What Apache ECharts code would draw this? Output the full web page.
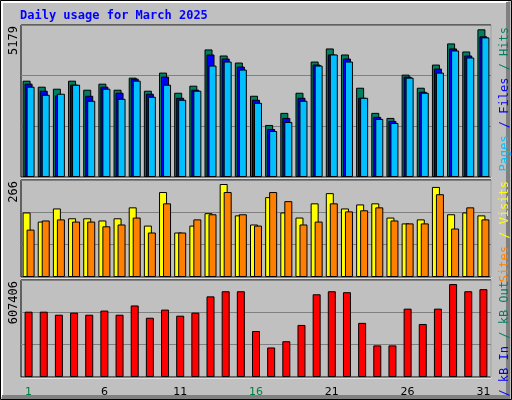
<!DOCTYPE html>
<html>
<head>
<meta charset="utf-8">
<script src="https://cdn.jsdelivr.net/npm/echarts@6/dist/echarts.min.js"></script>
<style>
  html, body { margin: 0; padding: 0; background: #c0c0c0; }
  #chart { width: 512px; height: 400px; }
</style>
</head>
<body>
<div id="chart"></div>
<script>
var days = ['1','2','3','4','5','6','7','8','9','10','11','12','13','14','15','16',
            '17','18','19','20','21','22','23','24','25','26','27','28','29','30','31'];
var weekend = ['1','2','8','9','15','16','22','23','29','30'];

var hits  = [3282,3077,3008,3282,2974,3180,2974,3385,2940,3557,2871,3111,4346,4140,3900,2768,
             1773,2185,2871,3934,4380,4174,3042,2185,2013,3488,3042,3831,4552,4277,5032];
var files = [3180,2940,2778,3145,2768,3077,2871,3351,2837,3420,2699,2974,4174,4037,3763,2631,
             1636,2013,2699,3831,4174,4037,2699,2048,1911,3420,2905,3694,4380,4140,4792];
var pages = [3077,2802,2837,3145,2597,3008,2665,3283,2734,3145,2631,2940,3797,3934,3660,2528,
             1567,1876,2597,3797,4174,3934,2699,1979,1842,3385,2871,3557,4311,4071,4757];
var visits = [177,152,188,161,161,155,161,191,141,233,122,141,175,255,169,144,
              219,177,163,202,230,188,199,202,163,147,158,247,172,177,169];
var sites  = [130,155,158,152,152,139,144,163,122,202,122,158,172,233,172,141,
              233,208,144,152,202,180,183,191,155,147,147,227,133,191,158];
var kbytes = [409000,409000,390000,403000,390000,416000,390000,448000,371000,422000,384000,403000,
              505000,537000,537000,288000,185000,224000,326000,518000,537000,531000,339000,198000,
              198000,428000,332000,428000,582000,537000,550000];

var maxHits = 5179, maxVisits = 266, maxKb = 607406;

var chart = echarts.init(document.getElementById('chart'));

function yAx(idx, max) {
    return {
        gridIndex: idx, type: 'value', min: 0, max: max, interval: max / 3,
        axisLabel: { show: false }, axisLine: { show: false }, axisTick: { show: false },
        splitLine: { lineStyle: { color: '#808080', width: 1 } }
    };
}
function xAx(idx, showLabels) {
    return {
        gridIndex: idx, type: 'category', data: days,
        axisLine: { show: false }, axisTick: { show: false },
        axisLabel: {
            show: showLabels, margin: 10, fontFamily: 'DejaVu Sans', fontSize: 11,
            formatter: function (v) { return weekend.indexOf(v) >= 0 ? '{we|' + v + '}' : v; },
            color: '#000',
            rich: { we: { color: '#008040', fontFamily: 'DejaVu Sans', fontSize: 11 } }
        }
    };
}
function bar(x, name, data, color, w, gap) {
    return {
        type: 'bar', name: name, xAxisIndex: x, yAxisIndex: x, data: data,
        barWidth: w, barGap: gap, animation: false,
        itemStyle: { color: color, borderColor: '#000', borderWidth: 1 }
    };
}
function vtext(x, y, rich, text) {
    return {
        type: 'text', x: x, y: y, rotation: Math.PI / 2,
        style: { text: text, rich: rich, fontFamily: 'DejaVu Sans Mono', fontSize: 12,
                 align: 'right', verticalAlign: 'middle', fill: '#000' }
    };
}

var gridStyle = { show: true, backgroundColor: 'transparent', borderColor: '#000', borderWidth: 1 };

var option = {
    backgroundColor: '#c0c0c0',
    grid: [
        Object.assign({ left: 21, right: 21, top: 25, height: 152 }, gridStyle),
        Object.assign({ left: 21, right: 21, top: 180, height: 97 }, gridStyle),
        Object.assign({ left: 21, right: 21, top: 280, height: 97 }, gridStyle)
    ],
    xAxis: [xAx(0, false), xAx(1, false), xAx(2, true)],
    yAxis: [yAx(0, maxHits), yAx(1, maxVisits), yAx(2, maxKb)],
    series: [
        bar(0, 'Hits', hits, '#008060', 8, '-75%'),
        bar(0, 'Files', files, '#0000ff', 8, '-75%'),
        bar(0, 'Pages', pages, '#00c0ff', 8, '-75%'),
        bar(1, 'Visits', visits, '#ffff00', 8, '-50%'),
        bar(1, 'Sites', sites, '#ff8000', 8, '-50%'),
        bar(2, 'kB F', kbytes, '#ff0000', 8, '0%')
    ],
    graphic: [
        { type: 'rect', shape: { x: 0.5, y: 0.5, width: 511, height: 399 }, silent: true, z: -10,
          style: { fill: '#c0c0c0', stroke: '#000', lineWidth: 1 } },
        { type: 'polyline', shape: { points: [[2, 397], [2, 2], [508, 2]] }, z: -9,
          style: { stroke: '#fff', lineWidth: 2, fill: null } },
        { type: 'polyline', shape: { points: [[2, 397], [508, 397], [508, 2]] }, z: -9,
          style: { stroke: '#808080', lineWidth: 4, fill: null } },
        { type: 'polyline', shape: { points: [[21, 178], [491, 178], [491, 25]] },
          style: { stroke: '#fff', lineWidth: 1, fill: null } },
        { type: 'polyline', shape: { points: [[21, 278], [491, 278], [491, 180]] },
          style: { stroke: '#fff', lineWidth: 1, fill: null } },
        { type: 'polyline', shape: { points: [[21, 378], [491, 378], [491, 280]] },
          style: { stroke: '#fff', lineWidth: 1, fill: null } },
        { type: 'text', x: 20, y: 10,
          style: { text: 'Daily usage for March 2025', fill: '#0000ff',
                   fontFamily: 'DejaVu Sans Mono', fontSize: 12, fontWeight: 'bold' } },
        vtext(14, 26, null, '5179'),
        vtext(14, 181, null, '266'),
        vtext(14, 281, null, '607406'),
        vtext(505, 27, {
            p: { fill: '#00c0ff', fontFamily: 'DejaVu Sans Mono', fontSize: 12 },
            f: { fill: '#0000ff', fontFamily: 'DejaVu Sans Mono', fontSize: 12 },
            h: { fill: '#008060', fontFamily: 'DejaVu Sans Mono', fontSize: 12 }
        }, '{p|Pages} {f|/ Files} {h|/ Hits}'),
        vtext(505, 181, {
            s: { fill: '#ff8000', fontFamily: 'DejaVu Sans Mono', fontSize: 12 },
            v: { fill: '#ffff00', fontFamily: 'DejaVu Sans Mono', fontSize: 12 }
        }, '{s|Sites} {v|/ Visits}'),
        vtext(505, 281, {
            r: { fill: '#ff0000', fontFamily: 'DejaVu Sans Mono', fontSize: 12 },
            b: { fill: '#0000ff', fontFamily: 'DejaVu Sans Mono', fontSize: 12 },
            g: { fill: '#008060', fontFamily: 'DejaVu Sans Mono', fontSize: 12 }
        }, '{r|kB F} {b|/ kB In} {g|/ kB Out}')
    ]
};

chart.setOption(option);
</script>
</body>
</html>
